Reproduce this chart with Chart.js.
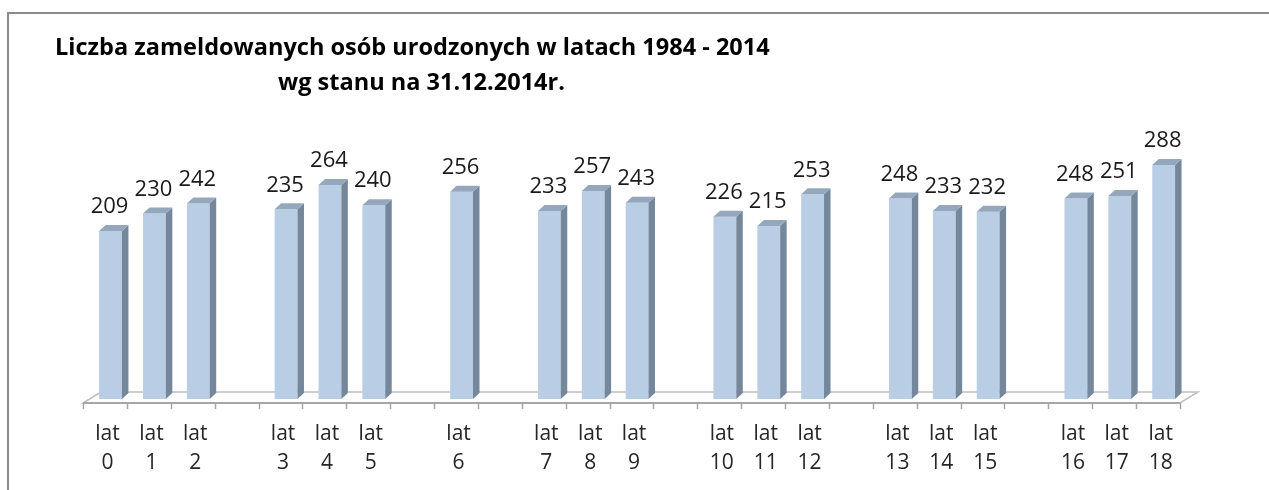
<!DOCTYPE html>
<html><head><meta charset="utf-8">
<script src="https://cdn.jsdelivr.net/npm/chart.js@4.4.0/dist/chart.umd.min.js"></script>
<style>html,body{margin:0;padding:0;background:#fff;overflow:hidden;}</style>
</head><body>
<canvas id="c" width="1269" height="490" style="display:block;width:1269px;height:490px"></canvas>
<script>
// ---- data ----
const titleLines = ["Liczba zameldowanych osób urodzonych w latach 1984 - 2014", "wg stanu na 31.12.2014r."];
const ageGroups = [[0,1,2],[3,4,5],[6],[7,8,9],[10,11,12],[13,14,15],[16,17,18]];
const values = [209,230,242,235,264,240,256,233,257,243,226,215,253,248,233,232,248,251,288];
const labelWord = "lat";

// build category list with empty gap slots between groups
const categories = [];
const seriesData = [];
ageGroups.forEach((g, gi) => {
  if (gi > 0) { categories.push(""); seriesData.push(null); }
  g.forEach(age => { categories.push([labelWord, String(age)]); seriesData.push(values[age]); });
});

Chart.defaults.font.family = "'Open Sans', 'Noto Sans', sans-serif";

const DX = 6.5, DY = -6;          // 3D depth of bars
const FLOOR_SHIFT_X = -5.6, FLOOR_FRONT = -2.5, FLOOR_DX = 18, FLOOR_DY = -11;

const deco = {
  id: 'deco',
  beforeDraw(chart) {
    const ctx = chart.ctx;
    ctx.save();
    ctx.fillStyle = '#fff';
    ctx.fillRect(0, 0, chart.width, chart.height);
    ctx.strokeStyle = '#8c8c8c';
    ctx.lineWidth = 2;
    ctx.strokeRect(8, 13, 1400, 600);
    // title
    ctx.fillStyle = '#000';
    ctx.textBaseline = 'middle';
    ctx.textAlign = 'left';
    ctx.font = "bold 21px 'Open Sans'";
    const w = ctx.measureText(titleLines[0]).width;
    const size = 21 * 715 / w;
    ctx.font = "bold " + size.toFixed(2) + "px 'Open Sans'";
    ctx.fillText(titleLines[0], 55, 48);
    ctx.fillText(titleLines[1], 278, 83);
    ctx.restore();
  },
  beforeDatasetsDraw(chart) {
    const ctx = chart.ctx, a = chart.chartArea;
    const n = chart.scales.x.ticks.length;
    const fl = a.left + FLOOR_SHIFT_X, fr = a.right + FLOOR_SHIFT_X, fy = a.bottom + FLOOR_FRONT;
    ctx.save();
    ctx.beginPath();
    ctx.moveTo(fl, fy); ctx.lineTo(fr, fy);
    ctx.lineTo(fr + FLOOR_DX, fy + FLOOR_DY); ctx.lineTo(fl + FLOOR_DX, fy + FLOOR_DY);
    ctx.closePath();
    ctx.fillStyle = '#fff'; ctx.fill();
    ctx.strokeStyle = '#bfbfbf'; ctx.lineWidth = 1.5; ctx.stroke();
    ctx.beginPath(); ctx.moveTo(fl, fy); ctx.lineTo(fr, fy);
    ctx.strokeStyle = '#a6a6a6'; ctx.lineWidth = 2; ctx.stroke();
    const sw = (fr - fl) / n;
    ctx.beginPath();
    for (let k = 0; k <= n; k++) {
      const x = Math.round(fl + k * sw) + 0.5;
      ctx.moveTo(x, fy); ctx.lineTo(x, fy + 6);
    }
    ctx.strokeStyle = '#a6a6a6'; ctx.lineWidth = 1.5; ctx.stroke();
    ctx.restore();
  },
  afterDatasetsDraw(chart) {
    const ctx = chart.ctx;
    const meta = chart.getDatasetMeta(0);
    ctx.save();
    meta.data.forEach((el, i) => {
      const v = chart.data.datasets[0].data[i];
      if (v === null || v === undefined) return;
      const p = el.getProps(['x', 'y', 'base', 'width'], true);
      const l = p.x - p.width / 2, r = p.x + p.width / 2;
      // side face
      ctx.beginPath();
      ctx.moveTo(r, p.y); ctx.lineTo(r + DX, p.y + DY); ctx.lineTo(r + DX, p.base + DY); ctx.lineTo(r, p.base);
      ctx.closePath(); ctx.fillStyle = '#75879b'; ctx.fill();
      // top face
      ctx.beginPath();
      ctx.moveTo(l, p.y); ctx.lineTo(l + DX, p.y + DY); ctx.lineTo(r + DX, p.y + DY); ctx.lineTo(r, p.y);
      ctx.closePath(); ctx.fillStyle = '#95a7bd'; ctx.fill();
      // value label
      ctx.fillStyle = '#1a1a1a';
      ctx.font = "22px 'Open Sans'";
      ctx.textAlign = 'center'; ctx.textBaseline = 'middle';
      ctx.fillText(String(v), p.x - 1, p.y - 24);
    });
    ctx.restore();
  }
};

new Chart(document.getElementById('c'), {
  type: 'bar',
  data: {
    labels: categories,
    datasets: [{
      data: seriesData,
      backgroundColor: '#b9cde5',
      borderWidth: 0,
      barPercentage: 0.52,
      categoryPercentage: 1,
      base: 7.8
    }]
  },
  options: {
    responsive: false,
    animation: false,
    devicePixelRatio: 1,
    layout: { padding: { left: 88.6, right: 83.4, top: 130, bottom: 0 } },
    plugins: { legend: { display: false }, tooltip: { enabled: false }, title: { display: false } },
    scales: {
      x: {
        grid: { display: false, drawTicks: false },
        border: { display: false },
        ticks: {
          font: { size: 21, lineHeight: 1.38 },
          color: '#262626',
          padding: 14,
          labelOffset: -3,
          maxRotation: 0,
          minRotation: 0,
          autoSkip: false
        },
        afterFit(s) { s.height = 84.5; }
      },
      y: { display: false, min: 0, max: 330 }
    }
  },
  plugins: [deco]
});
</script>
</body></html>
